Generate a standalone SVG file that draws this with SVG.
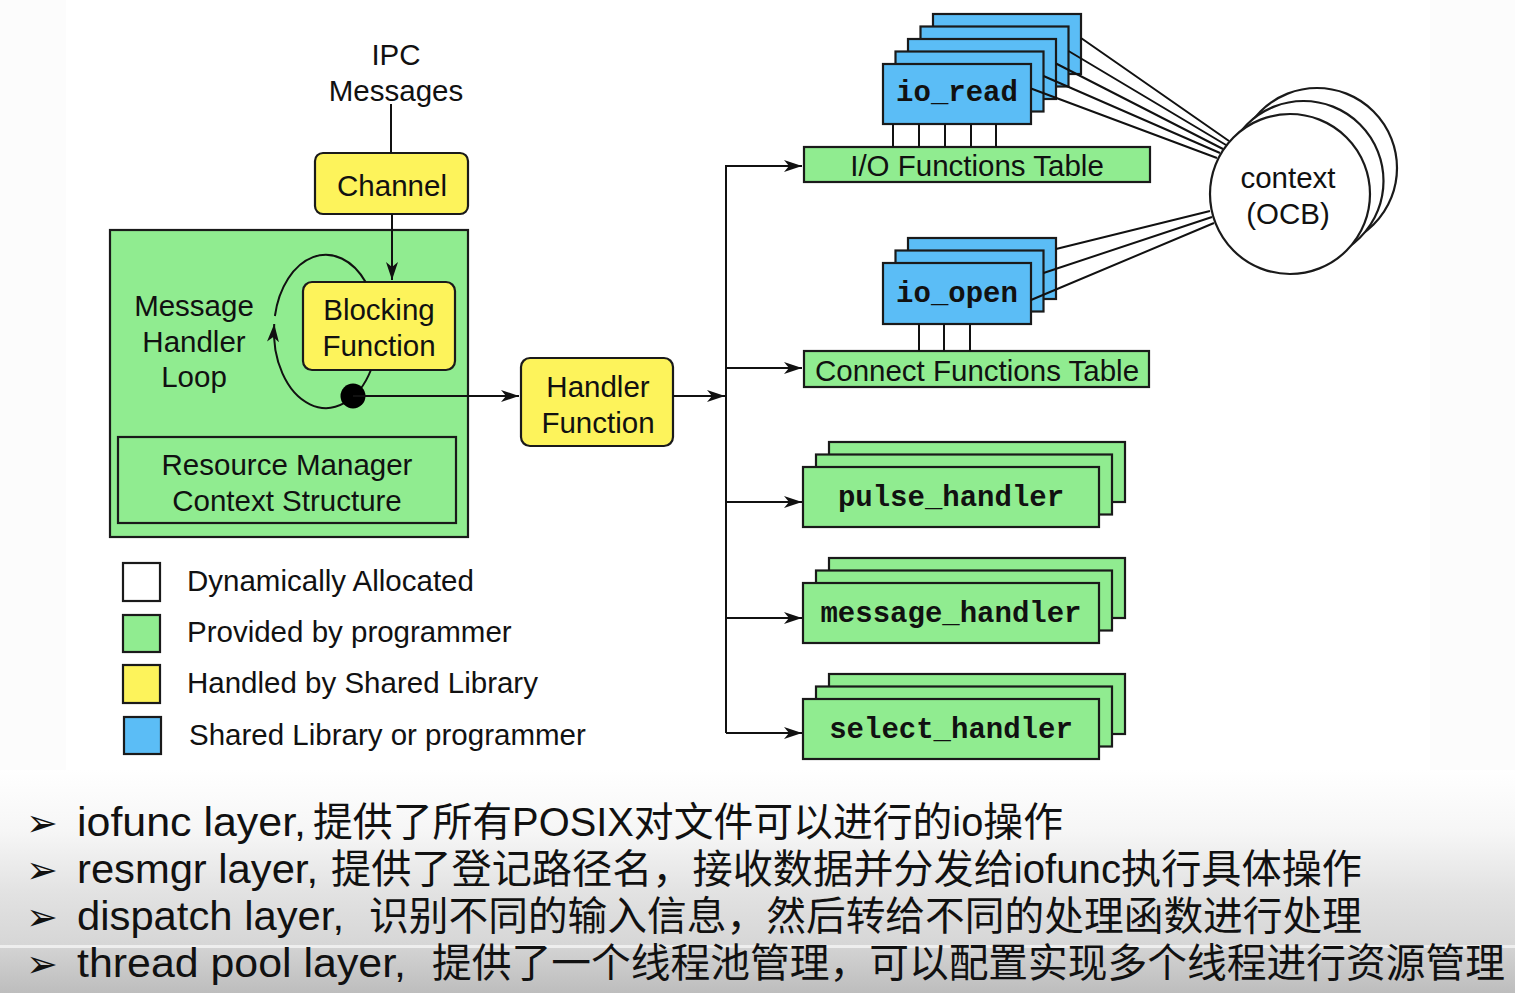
<svg xmlns="http://www.w3.org/2000/svg" width="1515" height="993" viewBox="0 0 1515 993">
<style>
.bx{stroke:#1a1a1a;stroke-width:2.2}
.g{fill:#90ec90}
.y{fill:#fdf35b}
.b{fill:#5bbdf6}
.w{fill:#ffffff}
.t{font-family:"Liberation Sans",Arial,sans-serif;font-size:29.5px;fill:#111;text-anchor:middle}
.tl{font-family:"Liberation Sans",Arial,sans-serif;font-size:29.5px;fill:#111}
.m{font-family:"Liberation Mono","Courier New",monospace;font-weight:bold;font-size:29px;fill:#111;text-anchor:middle}
.ln{stroke:#111;stroke-width:2;fill:none}
.cn{font-family:"Liberation Sans","Noto Sans CJK SC",sans-serif;font-size:40px;fill:#111}
.bul{font-family:"DejaVu Sans",sans-serif;font-size:38px;fill:#111}
</style>
<defs>
<marker id="ah" markerUnits="userSpaceOnUse" markerWidth="20" markerHeight="12" refX="18" refY="6" orient="auto" viewBox="0 0 20 12">
<path d="M0,0 L18,6 L0,12 L5,6 Z" fill="#111"/>
</marker>
<linearGradient id="bg" x1="0" y1="0" x2="0" y2="1">
<stop offset="0" stop-color="#ffffff"/>
<stop offset="0.35" stop-color="#f6f6f6"/>
<stop offset="0.7" stop-color="#e2e2e2"/>
<stop offset="1" stop-color="#d6d6d6"/>
</linearGradient>
<linearGradient id="bg2" x1="0" y1="0" x2="0" y2="1">
<stop offset="0" stop-color="#d3d3d3"/>
<stop offset="1" stop-color="#bdbdbd"/>
</linearGradient>
</defs>
<rect x="0" y="0" width="1515" height="993" fill="#fcfcfc"/>
<rect x="66" y="0" width="1364" height="770" fill="#ffffff"/>
<rect x="0" y="770" width="1515" height="176" fill="url(#bg)"/>
<rect x="0" y="945" width="1515" height="3" fill="#eeeeee"/>
<rect x="0" y="948" width="1515" height="45" fill="url(#bg2)"/>

<g id="rm-context">
<rect class="bx g" x="110" y="230" width="358" height="307"/>
<text class="t" x="194" y="316">Message</text>
<text class="t" x="194" y="352">Handler</text>
<text class="t" x="194" y="387">Loop</text>
</g>
<g id="rm-context-structure">
<rect class="bx g" x="118" y="437" width="338" height="86"/>
<text class="t" x="287" y="475">Resource Manager</text>
<text class="t" x="287" y="511">Context Structure</text>
</g>
<g id="ipc-messages">
<text class="t" x="396" y="65">IPC</text>
<text class="t" x="396" y="101">Messages</text>
</g>
<g id="channel">
<rect class="bx y" x="315" y="153" width="153" height="61" rx="8"/>
<text class="t" x="392" y="196">Channel</text>
</g>
<g id="blocking-function">
<rect class="bx y" x="303" y="282" width="152" height="88" rx="9"/>
<text class="t" x="379" y="320">Blocking</text>
<text class="t" x="379" y="356">Function</text>
</g>
<g id="handler-function">
<rect class="bx y" x="521" y="358" width="152" height="88" rx="9"/>
<text class="t" x="598" y="397">Handler</text>
<text class="t" x="598" y="433">Function</text>
</g>

<g id="io-read">
<rect class="bx b" x="933" y="14" width="148" height="60"/>
<rect class="bx b" x="920.5" y="26.5" width="148" height="60"/>
<rect class="bx b" x="908" y="39" width="148" height="60"/>
<rect class="bx b" x="895.5" y="51.5" width="148" height="60"/>
<rect class="bx b" x="883" y="64" width="148" height="60"/>
<text class="m" x="957" y="101">io_read</text>
</g>
<g id="io-functions-table">
<rect class="bx g" x="804" y="147" width="346" height="35"/>
<text class="t" x="977" y="176">I/O Functions Table</text>
</g>
<g id="io-open">
<rect class="bx b" x="908" y="238" width="148" height="61"/>
<rect class="bx b" x="895.5" y="250.5" width="148" height="61"/>
<rect class="bx b" x="883" y="263" width="148" height="61"/>
<text class="m" x="957" y="302">io_open</text>
</g>
<g id="connect-functions-table">
<rect class="bx g" x="804" y="351" width="345" height="36"/>
<text class="t" x="977" y="381">Connect Functions Table</text>
</g>
<g id="context-ocb">
<circle class="bx w" cx="1317" cy="168" r="80"/>
<circle class="bx w" cx="1303.5" cy="181" r="80"/>
<circle class="bx w" cx="1290" cy="194" r="80"/>
<text class="t" x="1288" y="188">context</text>
<text class="t" x="1288" y="224">(OCB)</text>
</g>
<g id="pulse-handler">
<rect class="bx g" x="829" y="442" width="296" height="60"/>
<rect class="bx g" x="816" y="454.5" width="296" height="60"/>
<rect class="bx g" x="803" y="467" width="296" height="60"/>
<text class="m" x="951" y="506">pulse_handler</text>
</g>
<g id="message-handler">
<rect class="bx g" x="829" y="558" width="296" height="60"/>
<rect class="bx g" x="816" y="570.5" width="296" height="60"/>
<rect class="bx g" x="803" y="583" width="296" height="60"/>
<text class="m" x="951" y="622">message_handler</text>
</g>
<g id="select-handler">
<rect class="bx g" x="829" y="674" width="296" height="60"/>
<rect class="bx g" x="816" y="686.5" width="296" height="60"/>
<rect class="bx g" x="803" y="699" width="296" height="60"/>
<text class="m" x="951" y="738">select_handler</text>
</g>

<g id="legend">
<rect class="bx w" x="123" y="563" width="37" height="38"/>
<text class="tl" x="187" y="591">Dynamically Allocated</text>
<rect class="bx g" x="123" y="615" width="37" height="37"/>
<text class="tl" x="187" y="642">Provided by programmer</text>
<rect class="bx y" x="123" y="665" width="37" height="38"/>
<text class="tl" x="187" y="693">Handled by Shared Library</text>
<rect class="bx b" x="124" y="717" width="37" height="37"/>
<text class="tl" x="189" y="745">Shared Library or programmer</text>
</g>

<g id="connectors">
<line class="ln" x1="391" y1="104" x2="391" y2="153"/>
<line class="ln" x1="392" y1="214" x2="392" y2="280" marker-end="url(#ah)"/>
<path class="ln" d="M365.6,282 A52,76.5 0 0 0 274.9,316"/>
<path class="ln" d="M370.9,370 A52,76.5 0 0 1 274.2,324" marker-end="url(#ah)"/>
<circle cx="353" cy="396" r="12.5" fill="#000"/>
<line class="ln" x1="353" y1="396" x2="519" y2="396" marker-end="url(#ah)"/>
<line class="ln" x1="673" y1="396" x2="725" y2="396" marker-end="url(#ah)"/>
<polyline class="ln" points="802,166 726,166 726,733"/>
<line class="ln" x1="726" y1="166" x2="802" y2="166" marker-end="url(#ah)"/>
<line class="ln" x1="726" y1="368" x2="802" y2="368" marker-end="url(#ah)"/>
<line class="ln" x1="726" y1="502" x2="802" y2="502" marker-end="url(#ah)"/>
<line class="ln" x1="726" y1="618" x2="802" y2="618" marker-end="url(#ah)"/>
<line class="ln" x1="726" y1="733" x2="802" y2="733" marker-end="url(#ah)"/>
<path class="ln" d="M893,124V147M919,124V147M945,124V147M971,124V147M996,124V147"/>
<path class="ln" d="M919,324V351M944,324V351M970,324V351"/>
<path class="ln" d="M1081,38L1229,141M1068.5,51L1226,145M1056,63.5L1223,149M1043.5,76L1220,153M1031,88.5L1217,158"/>
<path class="ln" d="M1056,249L1210,211M1043.5,273L1212,217M1031,300L1214,223"/>
</g>

<g id="notes">
<text class="bul" x="26" y="836">➢</text>
<text class="cn" x="77" y="836" textLength="229" lengthAdjust="spacingAndGlyphs">iofunc layer,</text>
<text class="cn" x="313" y="836" textLength="750" lengthAdjust="spacingAndGlyphs">提供了所有POSIX对文件可以进行的io操作</text>
<text class="bul" x="26" y="883">➢</text>
<text class="cn" x="77" y="883" textLength="241" lengthAdjust="spacingAndGlyphs">resmgr layer,</text>
<text class="cn" x="331" y="883" textLength="1031" lengthAdjust="spacingAndGlyphs">提供了登记路径名，接收数据并分发给iofunc执行具体操作</text>
<text class="bul" x="26" y="930">➢</text>
<text class="cn" x="77" y="930" textLength="267" lengthAdjust="spacingAndGlyphs">dispatch layer,</text>
<text class="cn" x="369" y="930" textLength="993" lengthAdjust="spacingAndGlyphs">识别不同的输入信息，然后转给不同的处理函数进行处理</text>
<text class="bul" x="26" y="977">➢</text>
<text class="cn" x="77" y="977" textLength="329" lengthAdjust="spacingAndGlyphs">thread pool layer,</text>
<text class="cn" x="432" y="977" textLength="1073" lengthAdjust="spacingAndGlyphs">提供了一个线程池管理，可以配置实现多个线程进行资源管理</text>
</g>
</svg>
